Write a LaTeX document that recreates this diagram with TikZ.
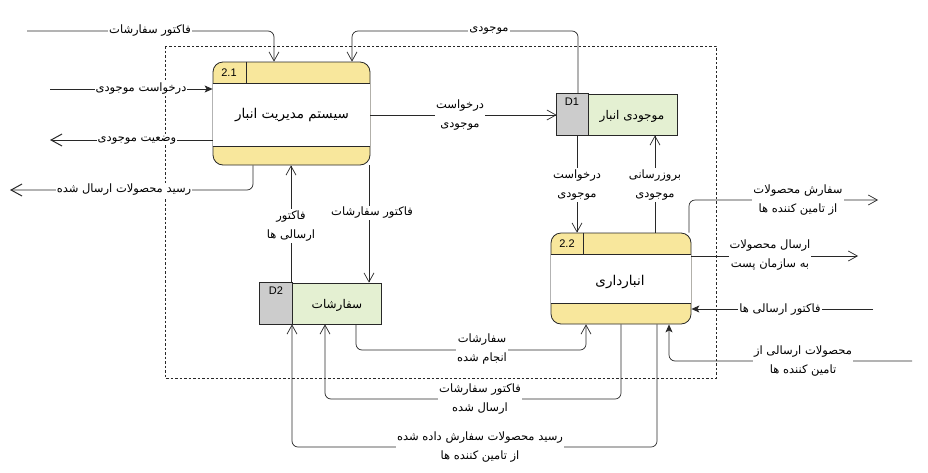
\documentclass[tikz,border=0pt]{standalone}
\usepackage{fontspec}
\setmainfont{Liberation Sans}
\newfontfamily\ar[Script=Arabic]{DejaVu Sans}
\TeXXeTstate=1
\usetikzlibrary{arrows.meta,calc}
\definecolor{procY}{RGB}{248,231,156}
\definecolor{storeG}{RGB}{228,240,210}
\definecolor{storeGr}{RGB}{204,204,204}
\definecolor{ln}{RGB}{40,40,40}
\newcommand\RL[1]{\beginR#1\endR}
\tikzset{
  flow/.style={draw=ln, line width=0.7pt, rounded corners=6pt},
  oa/.style={flow, -{Straight Barb[length=9pt,width=10pt,line width=0.7pt]}},
  oab/.style={flow, -{Straight Barb[length=11pt,width=12pt,line width=1pt]}},
  fa/.style={flow, -{Stealth[length=8pt,width=7pt,inset=2pt]}},
  lbl/.style={fill=white, inner sep=1pt, align=center, font={\ar\fontsize{11.5}{19.5}\selectfont}},
  proc/.style={draw=ln, line width=0.8pt, fill=procY, rounded corners=10pt, inner sep=0pt},
  store/.style={draw=ln, line width=0.8pt, fill=storeG, inner sep=0pt},
  title/.style={font={\ar\fontsize{13.5}{16}\selectfont}, inner sep=0pt},
  stitle/.style={font={\ar\fontsize{12}{14}\selectfont}, inner sep=0pt},
  idtxt/.style={font={\fontsize{11}{13}\selectfont}, inner sep=0pt},
}
\begin{document}
\begin{tikzpicture}[x=1pt,y=-1pt]
\useasboundingbox (0,0) rectangle (928,472);
\fill[white] (0,0) rectangle (928,472);
% boundary
\draw[ln, line width=0.7pt, dash pattern=on 2.5pt off 2pt] (165,46) rectangle (716,378);

% process 2.1
\node[proc, minimum width=157pt, minimum height=103pt] (p21) at (291.5,113.5) {};
\fill[white] ($(p21.west |- 0,83)+(0.5,0)$) rectangle ($(p21.east |- 0,146)+(-0.5,0)$);
\draw[ln, line width=0.8pt] (p21.west |- 0,83) -- (p21.east |- 0,83);
\draw[ln, line width=0.8pt] (p21.west |- 0,146) -- (p21.east |- 0,146);
\draw[ln, line width=0.8pt] (p21.north -| 246,0) -- (246,83);
\node[idtxt] (id21) at (229,73) {2.1};
\node[title] (t21) at (292,115) {\ar\RL{سیستم مدیریت انبار}};

% process 2.2
\node[proc, minimum width=140pt, minimum height=91pt] (p22) at (621,278.5) {};
\fill[white] ($(p22.west |- 0,254)+(0.5,0)$) rectangle ($(p22.east |- 0,303)+(-0.5,0)$);
\draw[ln, line width=0.8pt] (p22.west |- 0,254) -- (p22.east |- 0,254);
\draw[ln, line width=0.8pt] (p22.west |- 0,303) -- (p22.east |- 0,303);
\draw[ln, line width=0.8pt] (p22.north -| 583,0) -- (583,254);
\node[idtxt] (id22) at (567,244) {2.2};
\node[title] (t22) at (620,282) {\ar\RL{انبارداری}};

% store D1
\node[store, minimum width=120pt, minimum height=41pt] (d1) at (617,114.5) {};
\filldraw[fill=storeGr, draw=ln, line width=0.8pt] (d1.north west) rectangle (d1.south -| 588,0);
\node[idtxt] (idd1) at (572,102) {D1};
\node[stitle] (td1) at (632,116) {\ar\RL{موجودی انبار}};

% store D2
\node[store, minimum width=121pt, minimum height=41pt] (d2) at (320.5,303.5) {};
\filldraw[fill=storeGr, draw=ln, line width=0.8pt] (d2.north west) rectangle (d2.south -| 292,0);
\node[idtxt] (idd2) at (276,291) {D2};
\node[stitle] (td2) at (337,305) {\ar\RL{سفارشات}};

% free ends
\coordinate (c1) at (27,31);
\coordinate (c3) at (50,89);
\coordinate (c4) at (50,140);
\coordinate (c5) at (10,190);
\coordinate (c9) at (878,200);
\coordinate (c10) at (858,256);
\coordinate (c11) at (873,309);
\coordinate (c12) at (912,361);

% connectors
\draw[oa] (c1) -| (p21.north -| 274,0);
\draw[oa] (d1.north -| 578,0) -- (578,31) -| (p21.north -| 352,0);
\draw[fa] (c3) -- (p21.west |- c3);
\draw[oab] (p21.west |- c4) -- (c4);
\draw[oab] (p21.south -| 253,0) |- (c5);
\draw[oa] (p21.east |- 0,115) -- (d1.west |- 0,115);
\draw[oa] (d1.south -| 577,0) -- (p22.north -| 577,0);
\draw[oa] (p22.north -| 655,0) -- (d1.south -| 655,0);
\draw[oa] (p22.north -| 689,0) |- (c9);
\draw[oa] (p22.east |- c10) -- (c10);
\draw[fa] (c11) -- (p22.east |- c11);
\draw[fa] (c12) -| (p22.south -| 669,0);
\draw[oa] (p21.south -| 369,0) -- (d2.north -| 369,0);
\draw[oa] (d2.north -| 291,0) -- (p21.south -| 291,0);
\draw[oa] (d2.south -| 356,0) -- (356,350) -| (p22.south -| 586,0);
\draw[oa] (p22.south -| 621,0) -- (621,399) -| (d2.south -| 325,0);
\draw[oa] (p22.south -| 657,0) -- (657,447) -| (d2.south -| 292,0);

% labels
\node[lbl] (l1) at (150,31) {\RL{فاکتور سفارشات}};
\node[lbl] (l2) at (489,31) {\RL{موجودی}};
\node[lbl] (l3) at (141,89) {\RL{درخواست موجودی}};
\node[lbl] (l4) at (137,140) {\RL{وضعیت موجودی}};
\node[lbl] (l5) at (124,190) {\RL{رسید محصولات ارسال شده}};
\node[lbl] (l6) at (460,115) {\RL{درخواست}\\\RL{موجودی}};
\node[lbl] (l7) at (577,185) {\RL{درخواست}\\\RL{موجودی}};
\node[lbl] (l8) at (655,185) {\RL{بروزرسانی}\\\RL{موجودی}};
\node[lbl] (l9) at (798,200) {\RL{سفارش محصولات}\\\RL{از تامین کننده ها}};
\node[lbl] (l10) at (770,255) {\RL{ارسال محصولات}\\\RL{به سازمان پست}};
\node[lbl] (l11) at (780,310) {\RL{فاکتور ارسالی ها}};
\node[lbl] (l12) at (803,361) {\RL{محصولات ارسالی از}\\\RL{تامین کننده ها}};
\node[lbl] (l13) at (372,213) {\RL{فاکتور سفارشات}};
\node[lbl] (l14) at (291,226) {\RL{فاکتور}\\\RL{ارسالی ها}};
\node[lbl] (l15) at (482,349) {\RL{سفارشات}\\\RL{انجام شده}};
\node[lbl] (l16) at (480,399) {\RL{فاکتور سفارشات}\\\RL{ارسال شده}};
\node[lbl] (l17) at (480,447) {\RL{رسید محصولات سفارش داده شده}\\\RL{از تامین کننده ها}};
\end{tikzpicture}
\end{document}
